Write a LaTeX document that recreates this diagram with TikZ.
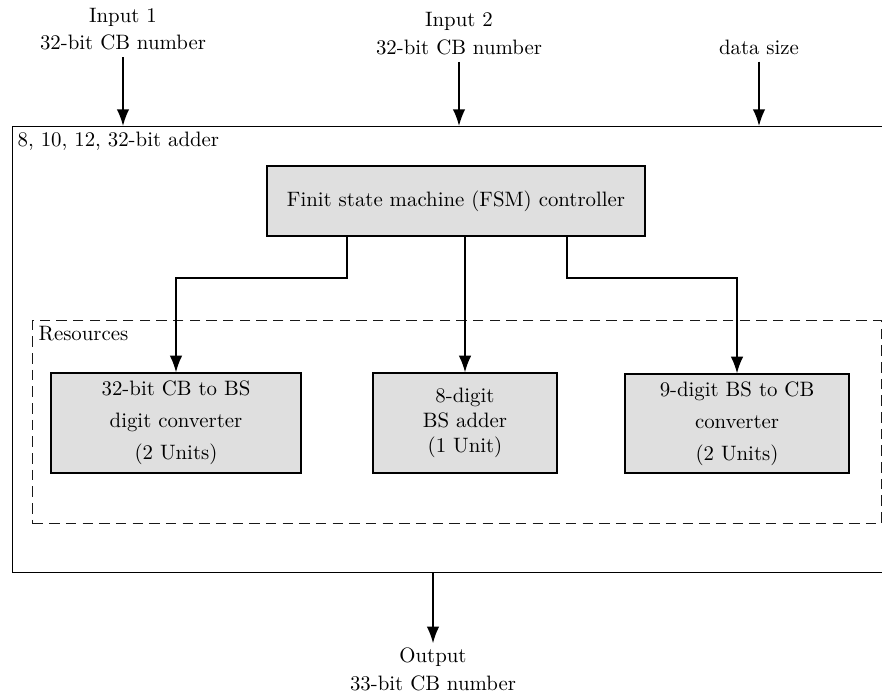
\documentclass[tikz,border=0pt]{standalone}
\usetikzlibrary{arrows.meta}
\begin{document}
\begin{tikzpicture}[x=0.48pt,y=-0.48pt,
  box/.style={draw, line width=0.6pt, fill=gray!25, inner sep=0pt, align=center},
  arr/.style={-{Latex[length=8pt,width=6pt]}, line width=0.8pt},
  lbl/.style={inner sep=0pt, align=center},
  inlbl/.style={inner sep=0pt, outer ysep=3.5pt, align=center},
]
\clip (0,0) rectangle (882,693);
% outer adder box (extends beyond right edge)
\node[draw, line width=0.65pt, minimum width=426pt, minimum height=214.1pt,
      anchor=north west, inner sep=0pt] (outer) at (12,126) {};
\node[inner sep=2.5pt, anchor=north west] (adderlbl) at (outer.north west) {8, 10, 12, 32-bit adder};
% resources dashed box
\node[draw=black!90, line width=0.6pt, dash pattern=on 5pt off 3pt,
      minimum width=407.5pt, minimum height=97.4pt, anchor=north west, inner sep=0pt] (res) at (32,320) {};
\node[inner sep=3pt, anchor=north west] (reslbl) at (res.north west) {Resources};
% FSM
\node[box, minimum width=181.4pt, minimum height=33.6pt] (fsm) at (456,201) {Finit state machine (FSM) controller};
% resource boxes
\node[box, minimum width=120pt, minimum height=48pt] (b1) at (176,423)
  {32-bit CB to BS\\[3.4pt]digit converter\\[3.4pt](2 Units)};
\node[box, minimum width=88.3pt, minimum height=48pt] (b2) at (465,423)
  {8-digit\\BS adder\\(1 Unit)};
\node[box, minimum width=107.5pt, minimum height=47.5pt] (b3) at (737,423.5)
  {9-digit BS to CB\\[3.4pt]converter\\[3.4pt](2 Units)};
% inputs
\node[inlbl] (in1) at (123,29) {Input 1\\[1.2pt]32-bit CB number};
\node[inlbl] (in2) at (459,33.5) {Input 2\\[1.2pt]32-bit CB number};
\node[inlbl] (dsz) at (759,47) {data size};
\node[lbl, outer ysep=2pt] (out) at (433,669) {Output\\[1.4pt]33-bit CB number};
% connectors
\draw[arr] (in1.south) -- (in1.south |- outer.north);
\draw[arr] (in2.south) -- (in2.south |- outer.north);
\draw[arr] (dsz.south) -- (dsz.south |- outer.north);
\coordinate (k1) at (347,278);
\coordinate (k3) at (567,278);
\draw[arr] (fsm.south -| k1) -- (k1) -| (b1.north);
\draw[arr] (fsm.south -| b2.north) -- (b2.north);
\draw[arr] (fsm.south -| k3) -- (k3) -| (b3.north);
\draw[arr] (outer.south -| out.north) -- (out.north);
\end{tikzpicture}
\end{document}
